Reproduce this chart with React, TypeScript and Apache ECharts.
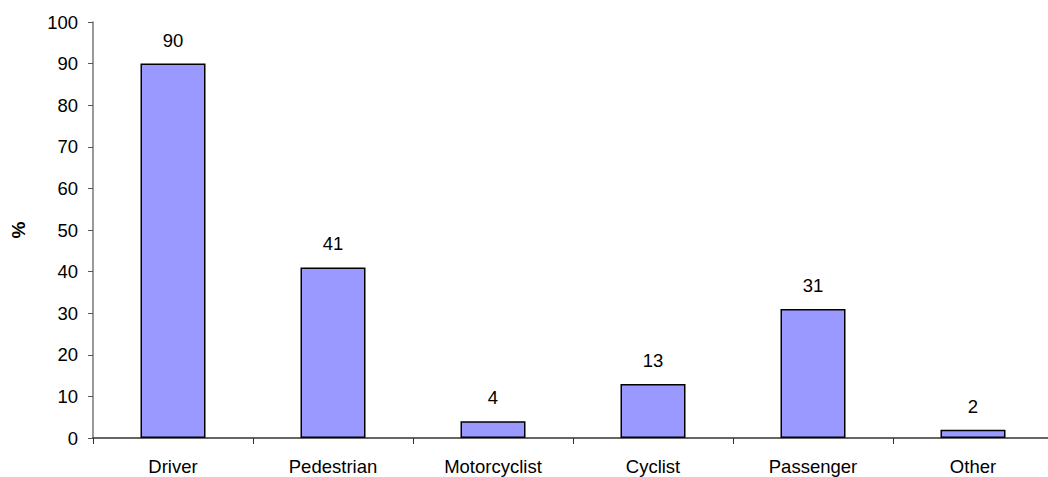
import React, { useEffect, useRef } from "react";
import * as echarts from "echarts";

const categories = ["Driver", "Pedestrian", "Motorcyclist", "Cyclist", "Passenger", "Other"];
const values = [90, 41, 4, 13, 31, 2];
const yTicks = [0, 10, 20, 30, 40, 50, 60, 70, 80, 90, 100];

export default function App() {
  const ref = useRef<HTMLDivElement>(null);
  useEffect(() => {
    if (!ref.current) return;
    const chart = echarts.init(ref.current, undefined, { renderer: "svg" });
    chart.setOption({
      animation: false,
      backgroundColor: "#ffffff",
      textStyle: { fontFamily: "Liberation Sans, Arial, sans-serif" },
      grid: { left: 93, top: 22, width: 960, height: 416, outerBoundsMode: "none", containLabel: false },
      xAxis: {
        type: "category",
        data: categories,
        axisLine: { lineStyle: { color: "#333333", width: 1.5 } },
        axisTick: { show: true, length: 6, alignWithLabel: false, lineStyle: { color: "#333333" } },
        axisLabel: { color: "#000000", fontSize: 18.5, margin: 19 },
      },
      yAxis: {
        type: "value",
        min: yTicks[0],
        max: yTicks[yTicks.length - 1],
        interval: 10,
        name: "%",
        nameLocation: "middle",
        nameGap: 65,
        nameRotate: 90,
        nameTextStyle: { color: "#000000", fontSize: 19, fontWeight: "bold" },
        splitLine: { show: false },
        axisLine: { show: true, lineStyle: { color: "#777777", width: 1.5 } },
        axisTick: { show: true, length: 5, lineStyle: { color: "#555555" } },
        axisLabel: { color: "#000000", fontSize: 18.5, margin: 15 },
      },
      series: [
        {
          type: "bar",
          data: values,
          barWidth: 65,
          itemStyle: { color: "#9999ff", borderColor: "#000000", borderWidth: 1.5 },
          label: {
            show: true,
            position: "top",
            distance: 14,
            color: "#000000",
            fontSize: 18.5,
          },
        },
      ],
    });
    return () => chart.dispose();
  }, []);
  return (
    <div
      ref={ref}
      style={{ position: "fixed", left: 0, top: 0, width: 1048, height: 477 }}
    />
  );
}
